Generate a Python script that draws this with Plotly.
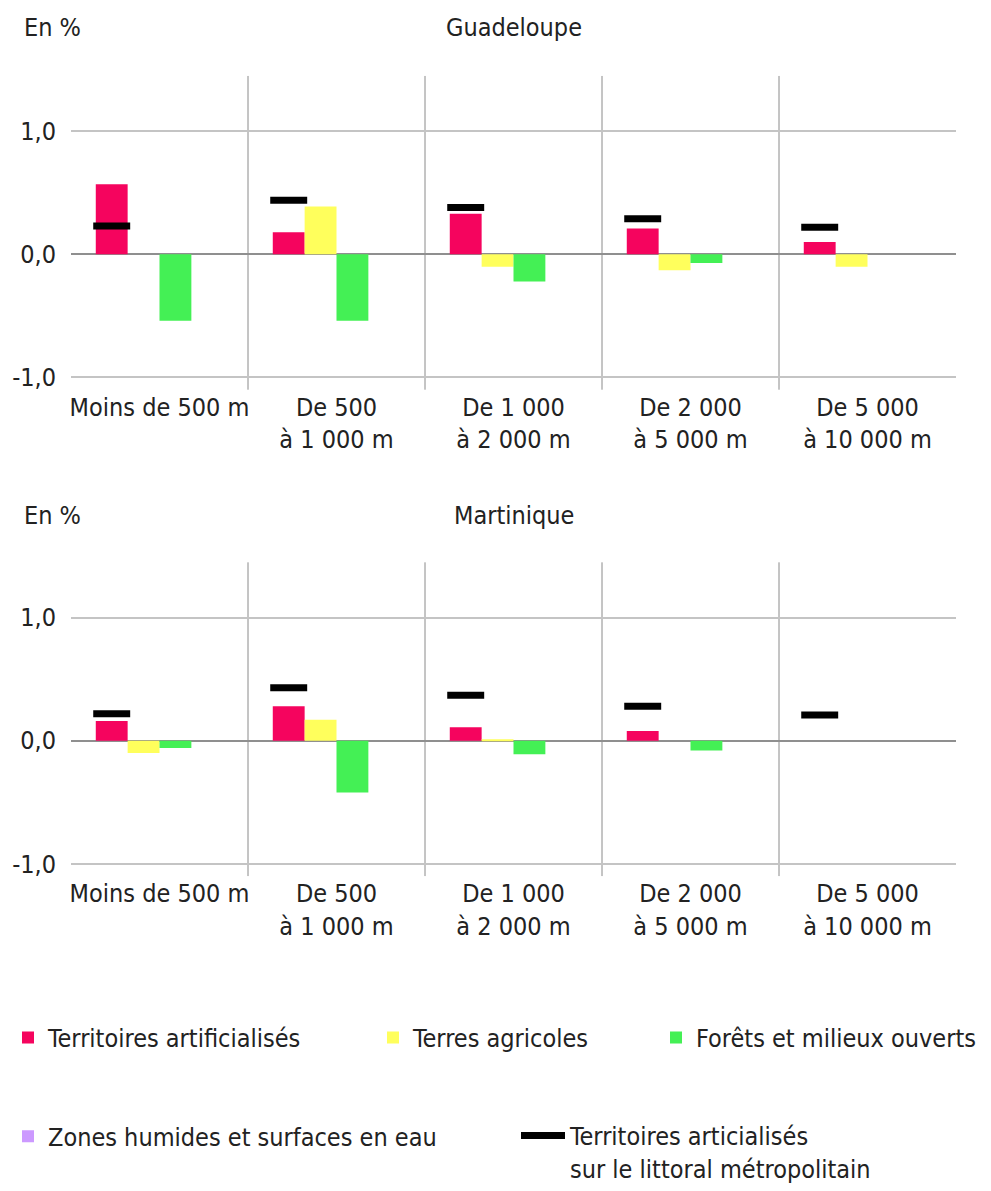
import plotly.graph_objects as go

# ---------------- data ----------------
categories = ["Moins de 500 m", "De 500<br>à 1 000 m", "De 1 000<br>à 2 000 m",
              "De 2 000<br>à 5 000 m", "De 5 000<br>à 10 000 m"]
tick_vals = [1.0, 0.0, -1.0]
tick_text = ["1,0", "0,0", "-1,0"]

series_names = ["Territoires artificialisés", "Terres agricoles",
                "Forêts et milieux ouverts", "Zones humides et surfaces en eau"]
ref_name = "Territoires articialisés<br>sur le littoral métropolitain"

guad_artif = [0.57, 0.18, 0.33, 0.21, 0.10]
guad_agri = [0.0, 0.39, -0.10, -0.13, -0.10]
guad_foret = [-0.54, -0.54, -0.22, -0.07, 0.0]
guad_humide = [0.0, 0.0, 0.0, 0.0, 0.0]
guad_metro = [0.23, 0.44, 0.38, 0.29, 0.22]

mart_artif = [0.16, 0.28, 0.11, 0.08, 0.0]
mart_agri = [-0.10, 0.17, 0.01, 0.0, 0.0]
mart_foret = [-0.06, -0.42, -0.11, -0.08, 0.0]
mart_humide = [0.0, 0.0, 0.0, 0.0, 0.0]
mart_metro = [0.22, 0.43, 0.37, 0.28, 0.21]

panels = [("Guadeloupe", [guad_artif, guad_agri, guad_foret, guad_humide], guad_metro),
          ("Martinique", [mart_artif, mart_agri, mart_foret, mart_humide], mart_metro)]

# ---------------- style ----------------
colors = ["#f5045e", "#ffff5c", "#44f055", "#cc99ff"]
FONT = "DejaVu Sans Condensed, Liberation Sans Narrow, sans-serif"
TXT = "#222222"
FS = 25
FW, FH = 991, 1191


def xp(px):
    return px / FW


def yp(py):
    return 1 - py / FH


BARGAP = 0.28
nser = len(series_names)
bar_w = (1 - BARGAP) / nser
first_offset = -(nser - 1) / 2 * bar_w   # centre of first bar of each group
dash_half = bar_w * 0.58

x_idx = list(range(len(categories)))
legend_ids = ["legend", "legend2", "legend3", "legend4", "legend5"]

fig = go.Figure()
for p, (title, series, metro) in enumerate(panels):
    xa = "x" if p == 0 else "x2"
    ya = "y" if p == 0 else "y2"
    for s, (name, vals) in enumerate(zip(series_names, series)):
        fig.add_trace(go.Bar(
            x=x_idx, y=vals, name=name, marker=dict(color=colors[s], line=dict(width=0)),
            xaxis=xa, yaxis=ya, showlegend=(p == 0), legend=legend_ids[s],
        ))
    # reference dashes, one short horizontal segment centred on the first bar of each group
    dx, dy = [], []
    for i, v in zip(x_idx, metro):
        c = i + first_offset
        dx += [c - dash_half, c + dash_half, None]
        dy += [v, v, None]
    fig.add_trace(go.Scatter(
        x=dx, y=dy, name=ref_name, mode="lines", line=dict(color="black", width=7),
        xaxis=xa, yaxis=ya, showlegend=(p == 0), legend="legend5",
    ))
    for i in range(1, len(categories)):
        fig.add_shape(type="line", xref=xa, yref=ya + " domain", x0=i - 0.5, x1=i - 0.5,
                      y0=0, y1=1, line=dict(color="#8a8a8a", width=1), layer="below")

x_dom = [xp(71), xp(956)]
y_rng = [-1.1, 1.45]
axis_common_x = dict(range=[-0.5, len(categories) - 0.5], tickvals=x_idx, ticktext=categories,
                     showgrid=False, zeroline=False, showline=False, ticks="",
                     tickfont=dict(family=FONT, size=FS, color=TXT), domain=x_dom)
axis_common_y = dict(range=y_rng, tickvals=tick_vals, ticktext=tick_text,
                     showgrid=True, gridcolor="#c4c4c4", gridwidth=2,
                     zeroline=True, zerolinecolor="#8f8f8f", zerolinewidth=2,
                     showline=False, ticks="", ticklabelstandoff=14,
                     tickfont=dict(family=FONT, size=FS, color=TXT))

fig.update_layout(
    width=FW, height=FH, margin=dict(l=0, r=0, t=0, b=0),
    paper_bgcolor="white", plot_bgcolor="white",
    barmode="group", bargap=BARGAP, bargroupgap=0,
    font=dict(family=FONT, size=FS, color=TXT),
    xaxis=dict(anchor="y", **axis_common_x),
    xaxis2=dict(anchor="y2", **axis_common_x),
    yaxis=dict(anchor="x", domain=[yp(395), yp(77)], **axis_common_y),
    yaxis2=dict(anchor="x2", domain=[yp(888), yp(570)], **axis_common_y),
    showlegend=True,
)

leg_common = dict(orientation="v", bgcolor="rgba(0,0,0,0)", borderwidth=0,
                  font=dict(family=FONT, size=FS, color=TXT),
                  xanchor="left", itemclick=False, itemdoubleclick=False)
fig.update_layout(
    legend=dict(x=xp(8), y=yp(1052), yanchor="middle", itemwidth=30, **leg_common),
    legend2=dict(x=xp(373), y=yp(1052), yanchor="middle", itemwidth=30, **leg_common),
    legend3=dict(x=xp(656), y=yp(1052), yanchor="middle", itemwidth=30, **leg_common),
    legend4=dict(x=xp(8), y=yp(1152), yanchor="middle", itemwidth=30, **leg_common),
    legend5=dict(x=xp(516), y=yp(1128), yanchor="top", itemwidth=44, valign="top",
                 **leg_common),
)

annots = []
for title, ty in [("Guadeloupe", 28), ("Martinique", 523)]:
    annots.append(dict(text=title, x=(x_dom[0] + x_dom[1]) / 2, y=yp(ty), xref="paper",
                       yref="paper", xanchor="center", yanchor="middle", showarrow=False,
                       font=dict(family=FONT, size=FS, color=TXT)))
    annots.append(dict(text="En %", x=xp(22), y=yp(ty), xref="paper", yref="paper",
                       xanchor="left", yanchor="middle", showarrow=False,
                       font=dict(family=FONT, size=FS, color=TXT)))
fig.update_layout(annotations=annots)

fig.write_html(
    "out.html",
    config={"displayModeBar": False},
    post_script="document.body.style.margin='0';document.body.style.overflow='hidden';",
)
